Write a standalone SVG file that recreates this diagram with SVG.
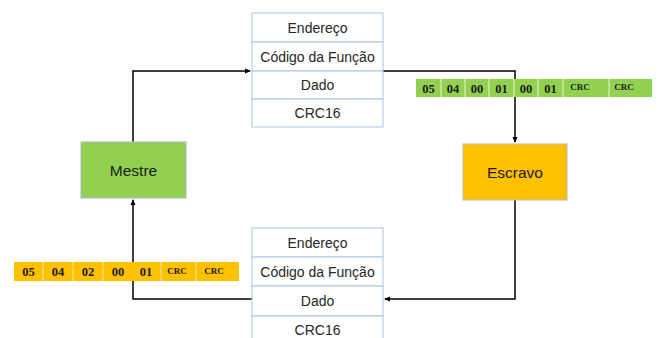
<svg xmlns="http://www.w3.org/2000/svg" width="659" height="338" viewBox="0 0 659 338">
<defs>
<style>
.cell{fill:#fff;stroke:#a9c3df;stroke-width:1}
.t{font-family:"Liberation Sans",Arial,sans-serif;font-size:14px;fill:#262626;text-anchor:middle;dominant-baseline:central}
.n{font-family:"Liberation Sans",Arial,sans-serif;font-size:15.5px;fill:#1a1a1a;text-anchor:middle;dominant-baseline:central}
.b{font-family:"Liberation Serif","Times New Roman",serif;font-weight:bold;font-size:12.5px;fill:#1a1a1a;text-anchor:middle;dominant-baseline:central}
.c{font-family:"Liberation Serif","Times New Roman",serif;font-weight:bold;font-size:9px;fill:#1a1a1a;text-anchor:middle;dominant-baseline:central}
.sep{stroke:#e8f3dc;stroke-width:1}
.sepo{stroke:#ffe9a8;stroke-width:1}
.con{fill:none;stroke:#000;stroke-width:1.5}
</style>
<marker id="ah" markerWidth="6" markerHeight="6" refX="5" refY="3" orient="auto" markerUnits="userSpaceOnUse">
<path d="M0,0.5 L6,3 L0,5.5 Z" fill="#000"/>
</marker>
</defs>
<rect width="659" height="338" fill="#fff"/>

<g id="connectors">
<path class="con" d="M133,142 V71 H250" marker-end="url(#ah)"/>
<path class="con" d="M383,71 H515 V142" marker-end="url(#ah)"/>
<path class="con" d="M515,200 V299 H385" marker-end="url(#ah)"/>
<path class="con" d="M252,299 H133 V200" marker-end="url(#ah)"/>
</g>

<g id="frame-top">
<rect class="cell" x="252" y="13" width="131" height="29"/>
<rect class="cell" x="252" y="42" width="131" height="29"/>
<rect class="cell" x="252" y="71" width="131" height="28"/>
<rect class="cell" x="252" y="99" width="131" height="28"/>
<text class="t" x="317.5" y="27.5">Endereço</text>
<text class="t" x="317.5" y="56.5">Código da Função</text>
<text class="t" x="317.5" y="85">Dado</text>
<text class="t" x="317.5" y="113">CRC16</text>
</g>

<g id="frame-bottom">
<rect class="cell" x="252" y="228" width="131" height="29"/>
<rect class="cell" x="252" y="257" width="131" height="29"/>
<rect class="cell" x="252" y="286" width="131" height="30"/>
<rect class="cell" x="252" y="316" width="131" height="29"/>
<text class="t" x="317.5" y="242.5">Endereço</text>
<text class="t" x="317.5" y="271.5">Código da Função</text>
<text class="t" x="317.5" y="301">Dado</text>
<text class="t" x="317.5" y="330">CRC16</text>
</g>

<g id="mestre">
<rect x="81" y="142" width="105" height="56" fill="#92d050" stroke="#a9b9cc" stroke-width="1"/>
<text class="n" x="133.5" y="170">Mestre</text>
</g>

<g id="escravo">
<rect x="463" y="144" width="104" height="56" fill="#ffc000" stroke="#b9b9b9" stroke-width="1"/>
<text class="n" x="515" y="172">Escravo</text>
</g>

<g id="green-bar">
<rect x="416" y="79" width="236" height="18" fill="#92d050"/>
<line class="sep" x1="441" y1="79" x2="441" y2="97"/>
<line class="sep" x1="465" y1="79" x2="465" y2="97"/>
<line class="sep" x1="489" y1="79" x2="489" y2="97"/>
<line class="sep" x1="514" y1="79" x2="514" y2="97"/>
<line class="sep" x1="538" y1="79" x2="538" y2="97"/>
<line class="sep" x1="563" y1="79" x2="563" y2="97"/>
<line class="sep" x1="609" y1="79" x2="609" y2="97"/>
<text class="b" x="428.5" y="88.5">05</text>
<text class="b" x="453" y="88.5">04</text>
<text class="b" x="477" y="88.5">00</text>
<text class="b" x="501.5" y="88.5">01</text>
<text class="b" x="526" y="88.5">00</text>
<text class="b" x="550.5" y="88.5">01</text>
<text class="c" x="580" y="87">CRC</text>
<text class="c" x="624" y="87">CRC</text>
</g>

<g id="orange-bar">
<rect x="14" y="262" width="225" height="19" fill="#ffc000"/>
<line class="sepo" x1="43" y1="262" x2="43" y2="281"/>
<line class="sepo" x1="73" y1="262" x2="73" y2="281"/>
<line class="sepo" x1="103" y1="262" x2="103" y2="281"/>
<line class="sepo" x1="161" y1="262" x2="161" y2="281"/>
<line class="sepo" x1="196" y1="262" x2="196" y2="281"/>
<text class="b" x="28.5" y="272">05</text>
<text class="b" x="58" y="272">04</text>
<text class="b" x="88" y="272">02</text>
<text class="b" x="118" y="272">00</text>
<text class="b" x="146" y="272">01</text>
<text class="c" x="177" y="270.5">CRC</text>
<text class="c" x="214" y="270.5">CRC</text>
</g>
</svg>
